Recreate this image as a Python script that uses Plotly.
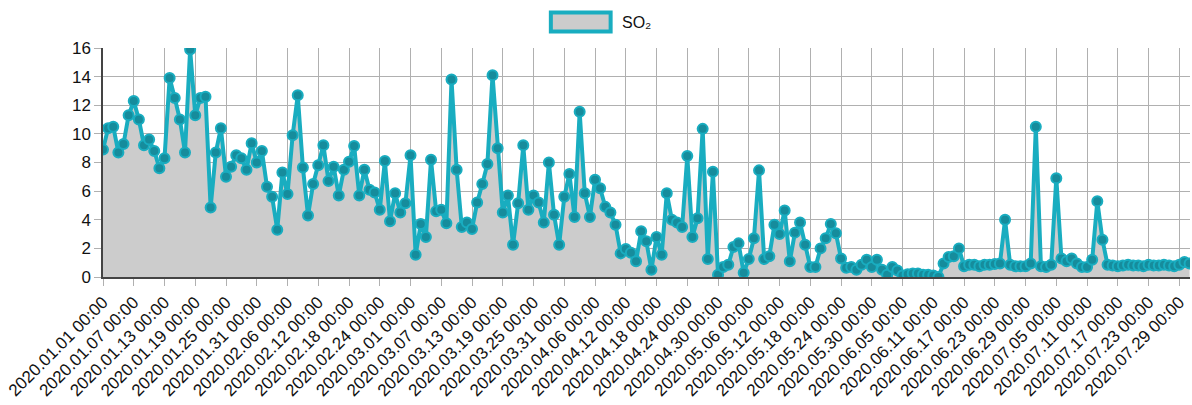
import pandas as pd
import plotly.graph_objects as go

start_date = "2020-01-01"
series_name = "SO₂"
so2 = [
    8.9, 10.4, 10.5, 8.7, 9.3, 11.3, 12.3, 11.0, 9.2, 9.6,
    8.8, 7.6, 8.3, 13.9, 12.5, 11.0, 8.7, 15.9, 11.3, 12.5,
    12.6, 4.85, 8.7, 10.4, 7.0, 7.7, 8.5, 8.3, 7.5, 9.35,
    8.0, 8.8, 6.3, 5.6, 3.3, 7.3, 5.8, 9.9, 12.7, 7.65,
    4.3, 6.5, 7.8, 9.2, 6.7, 7.7, 5.7, 7.5, 8.05, 9.15,
    5.7, 7.5, 6.1, 5.9, 4.7, 8.1, 3.9, 5.85, 4.5, 5.15,
    8.5, 1.55, 3.7, 2.8, 8.2, 4.6, 4.7, 3.75, 13.8, 7.5,
    3.5, 3.8, 3.35, 5.2, 6.5, 7.9, 14.1, 9.0, 4.5, 5.7,
    2.25, 5.15, 9.2, 4.7, 5.7, 5.2, 3.8, 8.0, 4.35, 2.25,
    5.6, 7.2, 4.2, 11.55, 5.85, 4.2, 6.8, 6.2, 4.9, 4.5,
    3.65, 1.65, 1.95, 1.7, 1.1, 3.2, 2.5, 0.5, 2.8, 1.55,
    5.85, 4.0, 3.8, 3.5, 8.45, 2.8, 4.1, 10.35, 1.25, 7.35,
    0.15, 0.7, 0.85, 2.1, 2.35, 0.3, 1.25, 2.7, 7.45, 1.25,
    1.45, 3.65, 3.0, 4.65, 1.1, 3.1, 3.8, 2.25, 0.7, 0.7,
    2.0, 2.7, 3.7, 3.05, 1.3, 0.65, 0.7, 0.5, 0.85, 1.2,
    0.7, 1.2, 0.5, 0.15, 0.7, 0.45, 0.1, 0.2, 0.25, 0.25,
    0.15, 0.15, 0.1, 0.0, 0.95, 1.4, 1.45, 2.0, 0.75, 0.85,
    0.85, 0.75, 0.85, 0.85, 0.9, 0.95, 4.0, 0.85, 0.75, 0.75,
    0.75, 0.95, 10.5, 0.75, 0.7, 0.85, 6.9, 1.3, 1.1, 1.3,
    0.95, 0.7, 0.7, 1.2, 5.3, 2.6, 0.85, 0.8, 0.75, 0.8,
    0.85, 0.8, 0.8, 0.75, 0.85, 0.8, 0.8, 0.85, 0.8, 0.75,
    0.85, 1.05, 0.95,
]
tick_step_days = 6
y_ticks = [0, 2, 4, 6, 8, 10, 12, 14, 16]

dates = pd.date_range(start_date, periods=len(so2), freq="D")
tick_dates = dates[::tick_step_days]
tick_text = [d.strftime("%Y.%m.%d %H:%M") for d in tick_dates]

LINE = "#19adc0"
MARK = "#168c9c"
FILL = "#cccccc"
GRID = "#b0b0b0"
AXIS = "#444444"
FONT = "Arial, Liberation Sans, sans-serif"

fig = go.Figure()
fig.add_trace(go.Scatter(
    x=dates, y=so2, name=series_name, mode="lines+markers",
    line=dict(color=LINE, width=4),
    marker=dict(size=10, color=MARK, line=dict(color=LINE, width=2)),
    fill="tozeroy", fillcolor=FILL, showlegend=False,
))

fig.update_layout(
    width=1192, height=405,
    margin=dict(l=103, r=2, t=48, b=128, autoexpand=False),
    paper_bgcolor="white", plot_bgcolor="white",
    font=dict(family=FONT, size=16, color="#111111"),
    xaxis=dict(
        range=[dates[0], dates[-1] + pd.Timedelta(hours=2)],
        tickvals=tick_dates, ticktext=tick_text, tickangle=-45,
        showgrid=True, gridcolor=GRID, gridwidth=1,
        showline=True, linecolor=AXIS, linewidth=1.5,
        ticks="outside", ticklen=7, tickcolor=GRID,
        tickfont=dict(size=17), zeroline=False, automargin=False,
    ),
    yaxis=dict(
        range=[0, 16], tickvals=y_ticks,
        showgrid=True, gridcolor=GRID, gridwidth=1,
        showline=True, linecolor=AXIS, linewidth=1.5,
        ticks="outside", ticklen=7, tickcolor=GRID,
        tickfont=dict(size=17), zeroline=False, automargin=False,
    ),
    shapes=[dict(
        type="rect", xref="paper", yref="paper",
        x0=0.412, x1=0.467, y0=1.072, y1=1.155,
        line=dict(color=LINE, width=4), fillcolor=FILL,
    )],
    annotations=[dict(
        text=series_name, xref="paper", yref="paper",
        x=0.476, y=1.113, xanchor="left", yanchor="middle",
        showarrow=False, font=dict(size=16, color="#111111"),
    )],
)

fig.write_html(
    "out.html",
    config={"displayModeBar": False},
    post_script="document.body.style.margin='0';document.body.style.overflow='hidden';",
)
